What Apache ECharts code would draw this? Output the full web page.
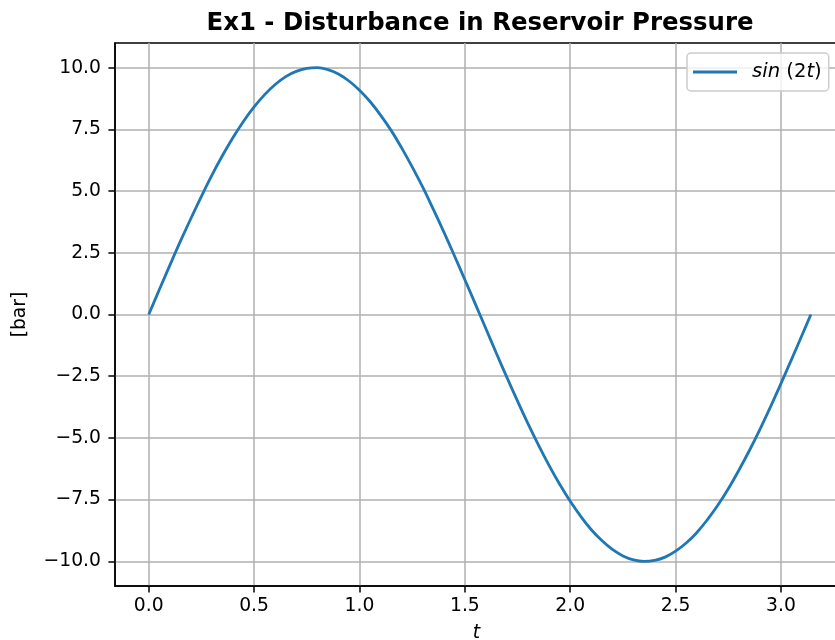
<!DOCTYPE html>
<html>
<head>
<meta charset="utf-8">
<script src="https://cdn.jsdelivr.net/npm/echarts@6/dist/echarts.min.js"></script>
<style>
html,body{margin:0;padding:0;background:#fff;}
#chart{width:835px;height:640px;}
</style>
</head>
<body>
<div id="chart"></div>
<script>
// ---- data ----
const titleText = 'Ex1 - Disturbance in Reservoir Pressure';
const xAxisLabel = 't';
const yAxisLabel = '[bar]';
const seriesName = 'sin (2t)';
const tValues = [0, 0.05, 0.1, 0.15, 0.2, 0.25, 0.3, 0.35, 0.4, 0.45, 0.5, 0.55, 0.6, 0.65, 0.7, 0.75,
  0.8, 0.85, 0.9, 0.95, 1.0, 1.05, 1.1, 1.15, 1.2, 1.25, 1.3, 1.35, 1.4, 1.45, 1.5, 1.55,
  1.6, 1.65, 1.7, 1.75, 1.8, 1.85, 1.9, 1.95, 2.0, 2.05, 2.1, 2.15, 2.2, 2.25, 2.3, 2.35,
  2.4, 2.45, 2.5, 2.55, 2.6, 2.65, 2.7, 2.75, 2.8, 2.85, 2.9, 2.95, 3.0, 3.05, 3.1, 3.1416];
const pressureValues = [0, 1.00, 1.99, 2.96, 3.89, 4.79, 5.65, 6.44, 7.17, 7.83, 8.41, 8.91, 9.32, 9.64, 9.85, 9.97,
  10.00, 9.92, 9.74, 9.46, 9.09, 8.63, 8.08, 7.46, 6.75, 5.98, 5.16, 4.27, 3.35, 2.39, 1.41, 0.42,
  -0.58, -1.58, -2.56, -3.51, -4.43, -5.30, -6.12, -6.88, -7.57, -8.18, -8.72, -9.16, -9.52, -9.78, -9.94, -10.00,
  -9.96, -9.83, -9.59, -9.26, -8.84, -8.32, -7.73, -7.06, -6.31, -5.51, -4.65, -3.74, -2.79, -1.82, -0.83, 0];
const xTicks = [0, 0.5, 1.0, 1.5, 2.0, 2.5, 3.0];
const yTicks = [-10, -7.5, -5, -2.5, 0, 2.5, 5, 7.5, 10];

const fontFamily = 'DejaVu Sans';
const fmt = v => Number(v).toFixed(1).replace('-', '\u2212');
const seriesData = tValues.map((t, i) => [t, pressureValues[i]]);

const chart = echarts.init(document.getElementById('chart'), null, {renderer: 'canvas'});
chart.setOption({
  animation: false,
  backgroundColor: '#ffffff',
  title: {
    text: titleText,
    left: 475,
    textAlign: 'center',
    top: 7,
    textStyle: {fontFamily, fontSize: 24.4, fontWeight: 'bold', color: '#000'}
  },
  legend: {
    left: 687,
    top: 53,
    padding: [9, 7, 9, 6],
    itemWidth: 44,
    itemHeight: 14,
    backgroundColor: 'rgba(255,255,255,0.8)',
    borderColor: '#cccccc',
    borderWidth: 1.5,
    borderRadius: 4,
    data: [{name: seriesName, icon: 'path://M0,0 L44,0 L44,2.8 L0,2.8 Z'}],
    formatter: () => '{i|sin} (2{i|t})',
    textStyle: {
      fontFamily, fontSize: 19.6, color: '#000', padding: [0, 0, 0, 10],
      rich: {i: {fontFamily, fontSize: 19.6, fontStyle: 'italic', color: '#000'}}
    }
  },
  grid: {
    left: 115, top: 43, width: 723, height: 543,
    outerBoundsMode: 'none',
    containLabel: false,
    show: true, borderColor: '#000', borderWidth: 1.5, backgroundColor: 'transparent'
  },
  xAxis: {
    type: 'value',
    min: -0.16,
    max: 3.2704,
    name: xAxisLabel,
    nameLocation: 'middle',
    nameGap: 38,
    nameTextStyle: {fontFamily, fontSize: 18.75, fontStyle: 'italic', color: '#000'},
    axisLine: {show: true, onZero: false, lineStyle: {color: '#000', width: 1.5}},
    axisTick: {show: true, inside: false, length: 6.6, lineStyle: {color: '#000', width: 1.5}, customValues: xTicks},
    axisLabel: {customValues: xTicks, formatter: fmt, margin: 11, fontFamily, fontSize: 18.75, color: '#000'},
    splitLine: {show: true, lineStyle: {color: '#b0b0b0', width: 1.5}}
  },
  yAxis: {
    type: 'value',
    min: -11,
    max: 11,
    name: yAxisLabel,
    nameLocation: 'middle',
    nameGap: 85,
    nameTextStyle: {fontFamily, fontSize: 18.75, color: '#000'},
    axisLine: {show: true, onZero: false, lineStyle: {color: '#000', width: 1.5}},
    axisTick: {show: true, inside: false, length: 6.6, lineStyle: {color: '#000', width: 1.5}, customValues: yTicks},
    axisLabel: {customValues: yTicks, formatter: fmt, margin: 14, fontFamily, fontSize: 18.75, color: '#000'},
    splitLine: {show: true, lineStyle: {color: '#b0b0b0', width: 1.5}}
  },
  series: [{
    name: seriesName,
    type: 'line',
    data: seriesData,
    symbol: 'none',
    smooth: 0.4,
    lineStyle: {color: '#1f77b4', width: 2.8},
    itemStyle: {color: '#1f77b4'}
  }]
});
</script>
</body>
</html>
